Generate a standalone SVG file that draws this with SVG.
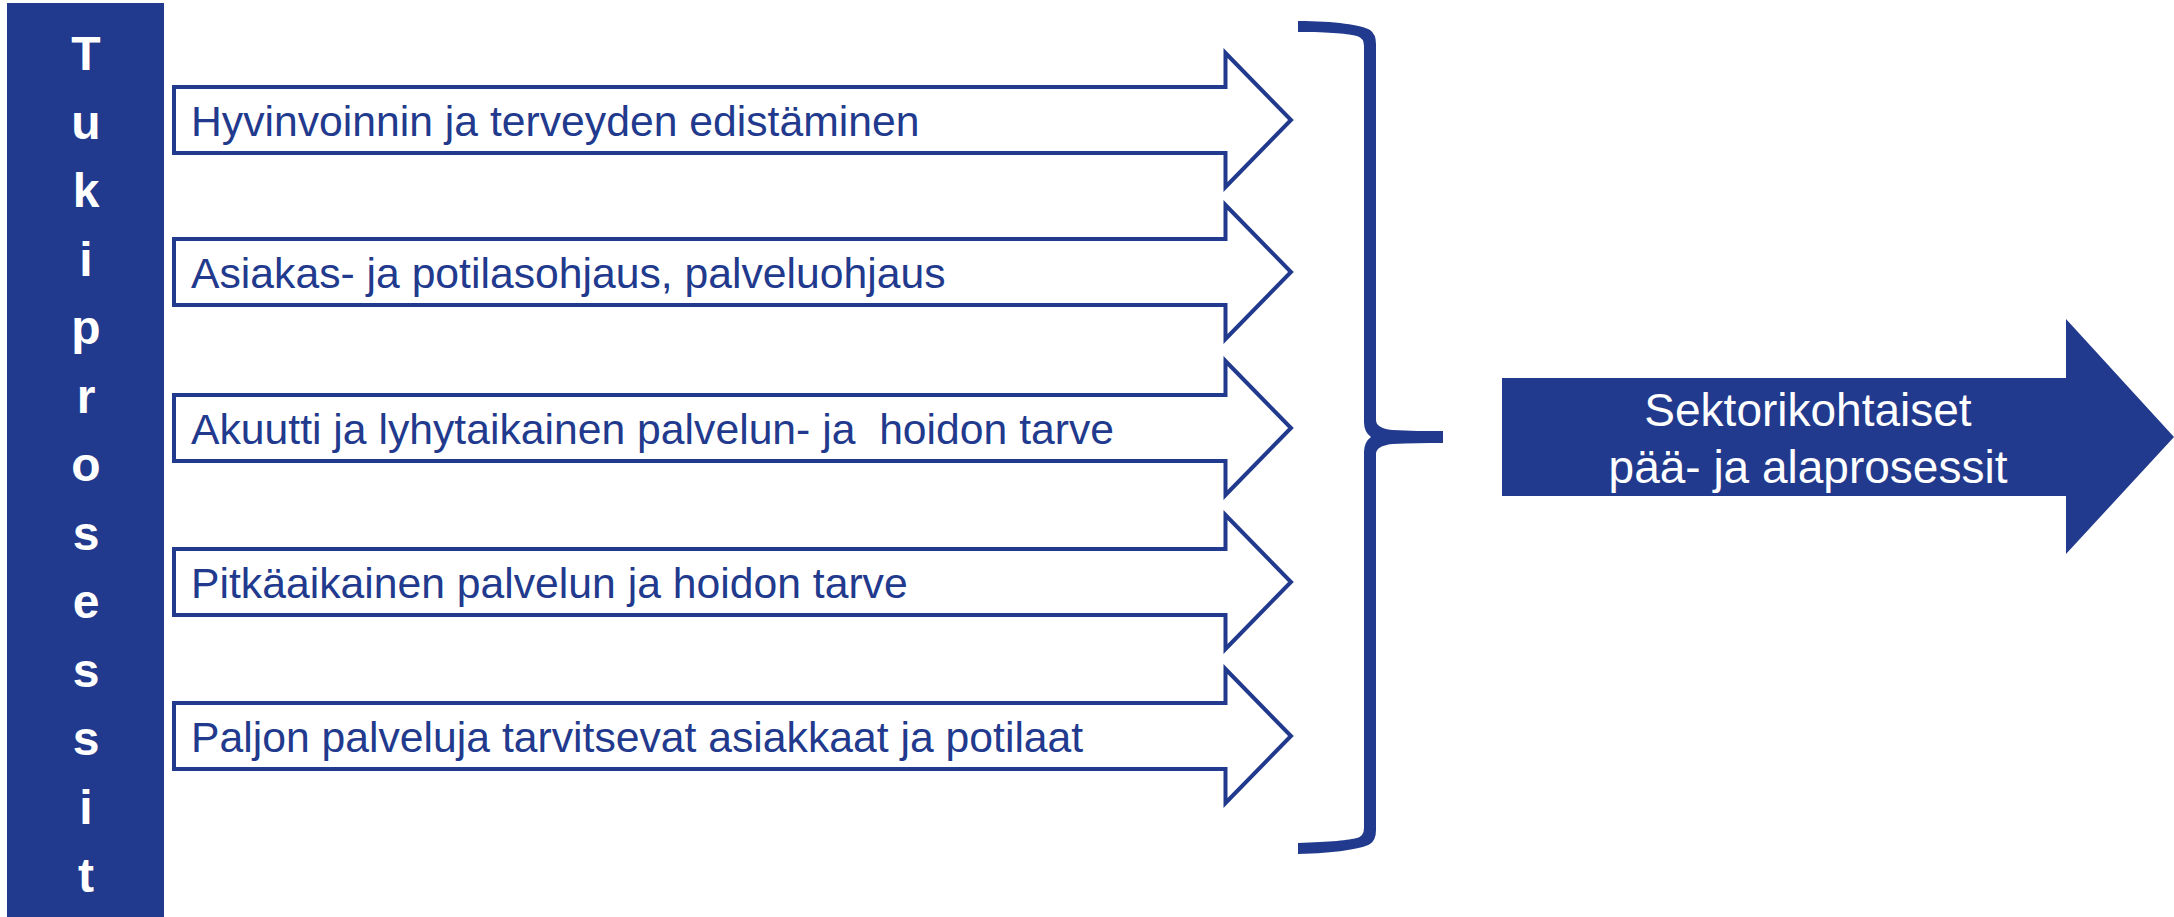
<svg xmlns="http://www.w3.org/2000/svg" width="2174" height="917" viewBox="0 0 2174 917">
  <style>
    .fill-blue { fill: #223A8D; }
    .step { fill: #ffffff; stroke: #223A8D; stroke-width: 4; stroke-linejoin: miter; }
    .step-label { font-family: "Liberation Sans", Arial, sans-serif; font-size: 42.7px; fill: #223A8D; }
    .bar-letter { font-family: "Liberation Sans", Arial, sans-serif; font-size: 48px; font-weight: bold; fill: #ffffff; text-anchor: middle; }
    .out-label { font-family: "Liberation Sans", Arial, sans-serif; font-size: 46px; fill: #ffffff; text-anchor: middle; }
  </style>
  <defs>
    <!-- outlined block arrow, centred vertically on y=0 -->
    <path id="step-shape" d="M174,-33 L1225.5,-33 L1225.5,-67 L1291,0 L1225.5,67 L1225.5,33 L174,33 Z"/>
  </defs>

  <rect width="2174" height="917" fill="#ffffff"/>

  <!-- vertical side bar -->
  <g id="tukiprosessit">
    <rect class="fill-blue" x="7" y="3" width="157" height="914"/>
    <text class="bar-letter" x="86" y="70">T</text>
    <text class="bar-letter" x="86" y="138.5">u</text>
    <text class="bar-letter" x="86" y="207">k</text>
    <text class="bar-letter" x="86" y="275.5">i</text>
    <text class="bar-letter" x="86" y="344">p</text>
    <text class="bar-letter" x="86" y="412.5">r</text>
    <text class="bar-letter" x="86" y="481">o</text>
    <text class="bar-letter" x="86" y="549.5">s</text>
    <text class="bar-letter" x="86" y="618">e</text>
    <text class="bar-letter" x="86" y="686.5">s</text>
    <text class="bar-letter" x="86" y="755">s</text>
    <text class="bar-letter" x="86" y="823.5">i</text>
    <text class="bar-letter" x="86" y="892">t</text>
  </g>

  <!-- process steps -->
  <g id="step-1" transform="translate(0,120)">
    <use href="#step-shape" class="step"/>
    <text class="step-label" x="191" y="16">Hyvinvoinnin ja terveyden edistäminen</text>
  </g>
  <g id="step-2" transform="translate(0,272)">
    <use href="#step-shape" class="step"/>
    <text class="step-label" x="191" y="16">Asiakas- ja potilasohjaus, palveluohjaus</text>
  </g>
  <g id="step-3" transform="translate(0,428)">
    <use href="#step-shape" class="step"/>
    <text class="step-label" x="191" y="16" xml:space="preserve">Akuutti ja lyhytaikainen palvelun- ja  hoidon tarve</text>
  </g>
  <g id="step-4" transform="translate(0,582)">
    <use href="#step-shape" class="step"/>
    <text class="step-label" x="191" y="16">Pitkäaikainen palvelun ja hoidon tarve</text>
  </g>
  <g id="step-5" transform="translate(0,736)">
    <use href="#step-shape" class="step"/>
    <text class="step-label" x="191" y="16">Paljon palveluja tarvitsevat asiakkaat ja potilaat</text>
  </g>

  <!-- connectors: curly brace gathering the steps -->
  <g id="connectors">
    <path class="fill-blue" d="M1298,21 C1335,21 1362,25 1370,30 Q1376,34 1376,44 L1376,420 Q1376,428 1392,430 C1410,431 1425,431 1443,431 L1443,443 C1425,443 1410,443 1392,444 Q1376,446 1376,454 L1376,830 Q1376,840 1370,844 C1362,849 1335,853 1298,854 L1298,843 C1330,842 1350,840 1357,838 Q1364,836 1364,828 L1364,452 Q1364,442 1371,437 Q1364,432 1364,422 L1364,46 Q1364,38 1357,36 C1350,34 1330,32 1298,32 Z"/>
  </g>

  <!-- result arrow -->
  <g id="sektorikohtaiset">
    <path class="fill-blue" d="M1502,378 L2066,378 L2066,319 L2174,437 L2066,554 L2066,496 L1502,496 Z"/>
    <text class="out-label" x="1808" y="426">Sektorikohtaiset</text>
    <text class="out-label" x="1808" y="483">pää- ja alaprosessit</text>
  </g>
</svg>
